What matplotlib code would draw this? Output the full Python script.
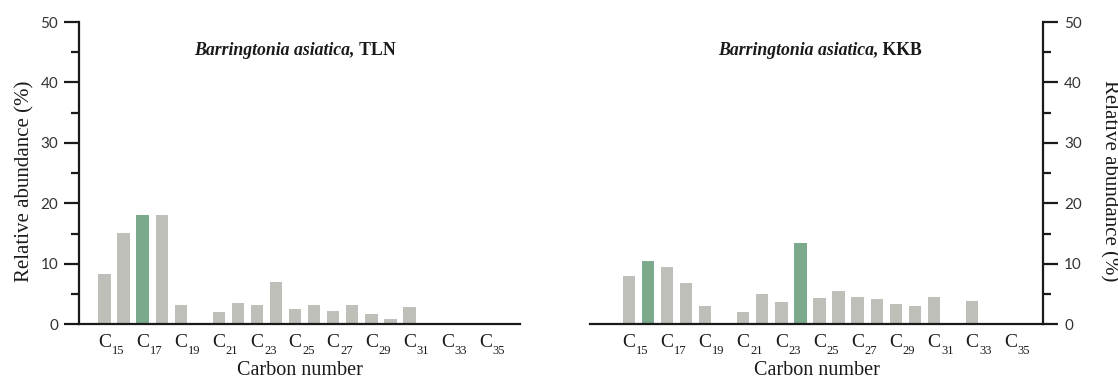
import matplotlib
matplotlib.use("Agg")
import matplotlib.pyplot as plt
import numpy as np

# Carbon chain lengths C15..C35
carbons = list(range(15, 36))
label_carbons = list(range(15, 36, 2))

# Relative abundance (%) of each n-alkane
tln_values = [8.3, 15.1, 18.1, 18.1, 3.15, 0.0, 2.0, 3.5, 3.15, 7.05, 2.5, 3.25,
              2.2, 3.2, 1.75, 0.85, 2.85, 0.0, 0.0, 0.0, 0.0]
kkb_values = [8.05, 10.4, 9.4, 6.8, 3.1, 0.0, 2.0, 5.0, 3.65, 13.4, 4.3, 5.55,
              4.5, 4.25, 3.3, 3.1, 4.45, 0.0, 3.9, 0.0, 0.0]

# Dominant homologues highlighted in green
tln_highlight = [17]
kkb_highlight = [16, 24]

titles = ["TLN", "KKB"]
species = "Barringtonia asiatica"
ylabel = "Relative abundance (%)"
xlabel = "Carbon number"

GRAY = "#bebfb9"
GREEN = "#7aaa8b"
SERIF = "Liberation Serif"
SANS = "Lato"

W, H = 1118, 383
fig = plt.figure(figsize=(W / 100, H / 100), dpi=100)


def px_axes(left, right, top, bottom):
    return fig.add_axes([left / W, 1 - bottom / H, (right - left) / W, (bottom - top) / H])


ax_l = px_axes(79, 520, 22, 324.3)
ax_r = px_axes(590, 1043.3, 22, 324.3)

panels = [
    (ax_l, tln_values, tln_highlight, titles[0], (13.66, 36.8), "left", 295),
    (ax_r, kkb_values, kkb_highlight, titles[1], (12.97, 36.73), "right", 820),
]

for ax, vals, hi, site, xlim, side, title_cx in panels:
    colors = [GREEN if c in hi else GRAY for c in carbons]
    ax.bar(carbons, vals, width=0.65, color=colors, edgecolor="none", zorder=2)
    ax.set_xlim(*xlim)
    ax.set_ylim(0, 50)

    for s in ["top", "left", "right"]:
        ax.spines[s].set_visible(False)
    ax.spines["bottom"].set_linewidth(1.6)
    ax.spines["bottom"].set_color("#1a1a1a")
    ax.spines[side].set_visible(True)
    ax.spines[side].set_linewidth(1.6)
    ax.spines[side].set_color("#1a1a1a")

    ax.set_yticks(np.arange(0, 51, 10))
    ax.set_yticks(np.arange(5, 50, 10), minor=True)
    ax.tick_params(axis="y", which="major", length=11, width=1.6, color="#1a1a1a",
                   labelsize=11, labelcolor="#333333", pad=4,
                   left=(side == "left"), labelleft=(side == "left"),
                   right=(side == "right"), labelright=(side == "right"))
    ax.tick_params(axis="y", which="minor", length=5.5, width=1.6, color="#1a1a1a",
                   left=(side == "left"), right=(side == "right"))
    for lab in ax.get_yticklabels():
        lab.set_fontfamily(SANS)

    ax.set_xticks([])

    # C-number tick labels with subscripts
    for c in label_carbons:
        ax.annotate("C", xy=(c, 0), xycoords=("data", "axes fraction"),
                    xytext=(0, -16.1), textcoords="offset points",
                    ha="center", va="baseline", fontsize=14, family=SERIF,
                    color="#1a1a1a")
        ax.annotate(str(c), xy=(c, 0), xycoords=("data", "axes fraction"),
                    xytext=(5.0, -21.4), textcoords="offset points",
                    ha="left", va="baseline", fontsize=9, family=SERIF,
                    color="#1a1a1a")

    ax.annotate(xlabel, xy=(0.5, 0), xycoords="axes fraction",
                xytext=(0, -36.5), textcoords="offset points",
                ha="center", va="baseline", fontsize=14.5, family=SERIF,
                color="#1a1a1a")

    # Panel title: italic species name followed by bold site code
    t1 = ax.text(0.0, 0.0, species + ",", fontsize=12.8, family=SERIF,
                 style="italic", weight="bold", color="#1a1a1a")
    t2 = ax.text(0.0, 0.0, " " + site, fontsize=12.8, family=SERIF,
                 weight="bold", color="#1a1a1a")
    fig.canvas.draw()
    r = fig.canvas.get_renderer()
    w1 = t1.get_window_extent(r).width
    w2 = t2.get_window_extent(r).width
    base_y = H - 55
    x0 = title_cx - (w1 + w2) / 2
    t1.set_transform(None)
    t2.set_transform(None)
    t1.set_position((x0, base_y))
    t2.set_position((x0 + w1, base_y))
    t1.set_va("baseline")
    t2.set_va("baseline")

fig.text(24.5 / W, 1 - 181 / H, ylabel, rotation=90, ha="center", va="center",
         fontsize=15, family=SERIF, color="#1a1a1a")
fig.text(1109 / W, 1 - 181 / H, ylabel, rotation=270, ha="center", va="center",
         fontsize=15, family=SERIF, color="#1a1a1a")

fig.savefig("out.png", dpi=100)
